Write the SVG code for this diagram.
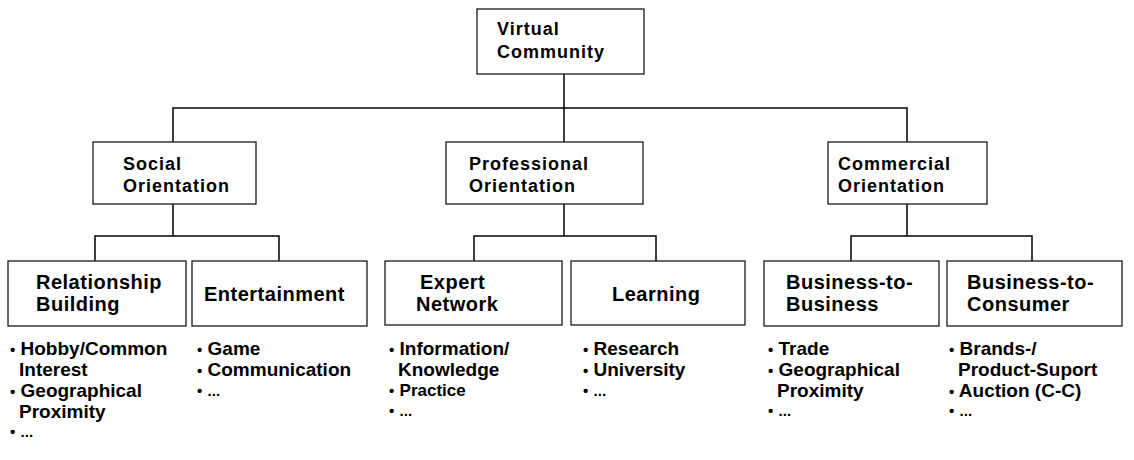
<svg xmlns="http://www.w3.org/2000/svg" width="1134" height="460" viewBox="0 0 1134 460">
  <style>
    .box { fill: #ffffff; stroke: #1a1a1a; stroke-width: 1.3; }
    .lbl1 { font-family: "Liberation Sans", Arial, sans-serif; font-weight: bold; font-size: 18px; fill: #000; letter-spacing: 1px; }
    .lbl2 { font-family: "Liberation Sans", Arial, sans-serif; font-weight: bold; font-size: 20px; fill: #000; letter-spacing: 0.5px; }
    .item { font-family: "Liberation Sans", Arial, sans-serif; font-weight: bold; font-size: 19px; fill: #000; }
    .bul { font-size: 15px; }
    .dots { font-size: 15px; }
    .conn { stroke: #000; stroke-width: 1.5; fill: none; }
  </style>
  <rect width="1134" height="460" fill="#ffffff"/>

  <g id="connectors">
    <path class="conn" d="M564 74 V142"/>
    <path class="conn" d="M173 142 V108 H907 V142"/>
    <path class="conn" d="M173 204 V236 M95 261 V236 H279 V261"/>
    <path class="conn" d="M564 204 V236 M474 261 V236 H656 V261"/>
    <path class="conn" d="M907 204 V236 M851 261 V236 H1032 V261"/>
  </g>

  <g id="virtual-community">
    <rect class="box" x="477" y="9" width="167" height="65"/>
    <text class="lbl1" x="497" y="35">Virtual</text>
    <text class="lbl1" x="497" y="58">Community</text>
  </g>

  <g id="social-orientation">
    <rect class="box" x="93" y="142" width="163" height="62"/>
    <text class="lbl1" x="123" y="170">Social</text>
    <text class="lbl1" x="123" y="192">Orientation</text>
  </g>
  <g id="professional-orientation">
    <rect class="box" x="446" y="142" width="197" height="62"/>
    <text class="lbl1" x="469" y="170">Professional</text>
    <text class="lbl1" x="469" y="192">Orientation</text>
  </g>
  <g id="commercial-orientation">
    <rect class="box" x="828" y="142" width="159" height="62"/>
    <text class="lbl1" x="838" y="170">Commercial</text>
    <text class="lbl1" x="838" y="192">Orientation</text>
  </g>

  <g id="relationship-building">
    <rect class="box" x="8" y="261" width="178" height="65"/>
    <text class="lbl2" x="36" y="289">Relationship</text>
    <text class="lbl2" x="36" y="311">Building</text>
  </g>
  <g id="entertainment">
    <rect class="box" x="192" y="261" width="175" height="65"/>
    <text class="lbl2" x="204" y="301">Entertainment</text>
  </g>
  <g id="expert-network">
    <rect class="box" x="385" y="261" width="177" height="64"/>
    <text class="lbl2" x="420" y="289">Expert</text>
    <text class="lbl2" x="416" y="311">Network</text>
  </g>
  <g id="learning">
    <rect class="box" x="571" y="261" width="174" height="64"/>
    <text class="lbl2" x="612" y="301">Learning</text>
  </g>
  <g id="business-to-business">
    <rect class="box" x="764" y="261" width="175" height="65"/>
    <text class="lbl2" x="786" y="289">Business-to-</text>
    <text class="lbl2" x="786" y="311">Business</text>
  </g>
  <g id="business-to-consumer">
    <rect class="box" x="947" y="261" width="175" height="65"/>
    <text class="lbl2" x="967" y="289">Business-to-</text>
    <text class="lbl2" x="967" y="311">Consumer</text>
  </g>

  <g id="items-relationship">
    <text class="item" x="10" y="355"><tspan class="bul">•</tspan> Hobby/Common</text>
    <text class="item" x="19" y="376">Interest</text>
    <text class="item" x="10" y="397"><tspan class="bul">•</tspan> Geographical</text>
    <text class="item" x="19" y="418">Proximity</text>
    <text class="item" x="10" y="437"><tspan class="bul">•</tspan> <tspan class="dots">...</tspan></text>
  </g>
  <g id="items-entertainment">
    <text class="item" x="197" y="355"><tspan class="bul">•</tspan> Game</text>
    <text class="item" x="197" y="376"><tspan class="bul">•</tspan> Communication</text>
    <text class="item" x="197" y="396"><tspan class="bul">•</tspan> <tspan class="dots">...</tspan></text>
  </g>
  <g id="items-expert">
    <text class="item" x="389" y="355"><tspan class="bul">•</tspan> Information/</text>
    <text class="item" x="398" y="376">Knowledge</text>
    <text class="item" x="389" y="396"><tspan class="bul">•</tspan> <tspan font-size="17">Practice</tspan></text>
    <text class="item" x="389" y="416"><tspan class="bul">•</tspan> <tspan class="dots">...</tspan></text>
  </g>
  <g id="items-learning">
    <text class="item" x="583" y="355"><tspan class="bul">•</tspan> Research</text>
    <text class="item" x="583" y="376"><tspan class="bul">•</tspan> University</text>
    <text class="item" x="583" y="396"><tspan class="bul">•</tspan> <tspan class="dots">...</tspan></text>
  </g>
  <g id="items-b2b">
    <text class="item" x="768" y="355"><tspan class="bul">•</tspan> Trade</text>
    <text class="item" x="768" y="376"><tspan class="bul">•</tspan> Geographical</text>
    <text class="item" x="777" y="397">Proximity</text>
    <text class="item" x="768" y="416"><tspan class="bul">•</tspan> <tspan class="dots">...</tspan></text>
  </g>
  <g id="items-b2c">
    <text class="item" x="949" y="355"><tspan class="bul">•</tspan> Brands-/</text>
    <text class="item" x="958" y="376">Product-Suport</text>
    <text class="item" x="949" y="397"><tspan class="bul">•</tspan> Auction (C-C)</text>
    <text class="item" x="949" y="416"><tspan class="bul">•</tspan> <tspan class="dots">...</tspan></text>
  </g>
</svg>
